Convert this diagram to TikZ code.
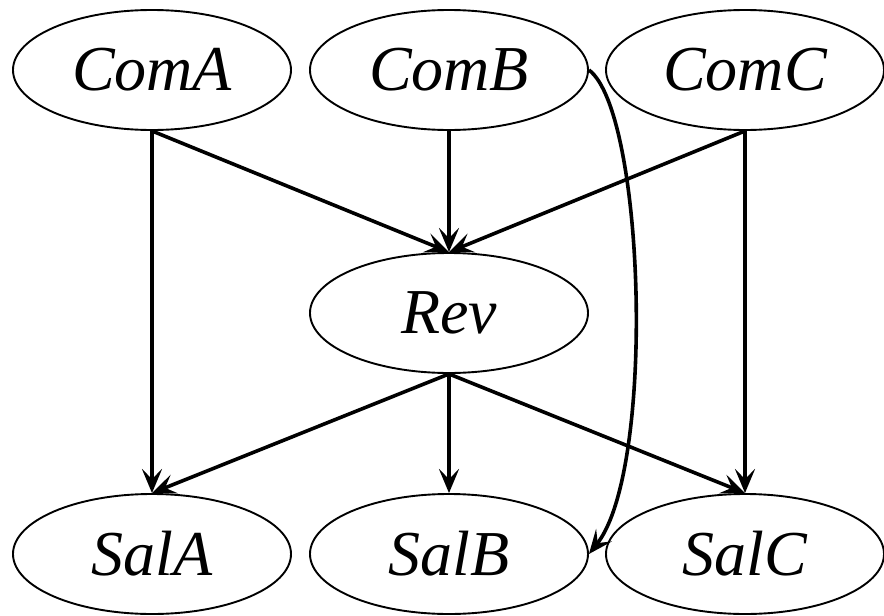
\documentclass[tikz,border=0pt]{standalone}
\usepackage{fontspec}
\setmainfont{Liberation Serif}
\usetikzlibrary{shapes.geometric,arrows.meta}
\begin{document}
\begin{tikzpicture}[x=1pt,y=-1pt,
  var/.style={ellipse,draw,line width=1.9pt,minimum width=278pt,minimum height=120pt,inner sep=0pt,font=\fontsize{64}{68}\selectfont\itshape},
  edge/.style={line width=3.6pt,-{Stealth[length=24pt,width=20pt,inset=10pt]}}]
\useasboundingbox (0,0) rectangle (884,616);
\node[var] (ComA) at (152,70) {\raisebox{-3pt}{ComA}};
\node[var] (ComB) at (449,70) {\raisebox{-3pt}{ComB}};
\node[var] (ComC) at (745,70) {\raisebox{-3pt}{ComC}};
\node[var] (Rev) at (449,313) {\raisebox{-3pt}{Rev}};
\node[var] (SalA) at (152,554) {\raisebox{-3pt}{SalA}};
\node[var] (SalB) at (449,554) {\raisebox{-3pt}{SalB}};
\node[var] (SalC) at (745,554) {\raisebox{-3pt}{SalC}};
\draw[edge] (ComA.south) -- (SalA.north);
\draw[edge] (ComA.south) -- (Rev.north);
\draw[edge] (ComB.south) -- (Rev.north);
\draw[edge] (ComC.south) -- (Rev.north);
\draw[edge] (ComC.south) -- (SalC.north);
\draw[edge] (Rev.south) -- (SalA.north);
\draw[edge] (Rev.south) -- (SalB.north);
\draw[edge] (Rev.south) -- (SalC.north);
\draw[edge] (ComB.east) .. controls +(56,42) and +(67,-84) .. (SalB.east);
\end{tikzpicture}
\end{document}
